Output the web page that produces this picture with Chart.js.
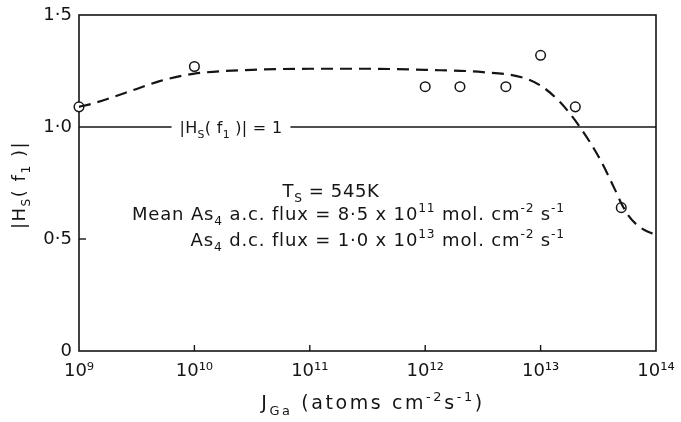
<!DOCTYPE html>
<html><head><meta charset="utf-8">
<script src="https://cdn.jsdelivr.net/npm/chart.js@4.4.1/dist/chart.umd.min.js"></script>
<style>html,body{margin:0;padding:0;background:#fff}#wrap{width:681px;height:422px;position:relative}</style>
</head><body><div id="wrap"><canvas id="c" width="681" height="422"></canvas></div>
<script>
// ---- data ----
const decadeTicks = [1e9, 1e10, 1e11, 1e12, 1e13, 1e14];
const decadeLabels = ['10⁹', '10¹⁰', '10¹¹', '10¹²', '10¹³', '10¹⁴'];
const yTicks = [0, 0.5, 1.0, 1.5];
const yTickLabels = ['0', '0·5', '1·0', '1·5'];
// measured points (open circles)
const fluxJ = [1e9, 1e10, 1e12, 2e12, 5e12, 1e13, 2e13, 5e13];
const gainH = [1.09, 1.27, 1.18, 1.18, 1.18, 1.32, 1.09, 0.64];
// dashed fitted curve
const curveJ = [1e9, 1.32e9, 3.16e9, 5.0e9, 1e10, 3.16e10, 1e11, 3.16e11, 1e12, 3.16e12, 7.1e12, 1e13, 1.48e13, 2.19e13, 3.24e13, 4.37e13, 5.0e13, 5.75e13, 6.76e13, 7.94e13, 9.3e13, 1e14];
const curveH = [1.09, 1.105, 1.17, 1.205, 1.238, 1.255, 1.26, 1.26, 1.255, 1.245, 1.22, 1.185, 1.11, 1.0, 0.86, 0.725, 0.66, 0.605, 0.565, 0.54, 0.525, 0.52];

const FONT = "'DejaVu Sans', sans-serif";
const INK = '#151515';

function drawRich(ctx, parts, x, y, size, align, spacing) {
  ctx.letterSpacing = (spacing || 0) + 'px';
  const seg = parts.map(p => {
    const kind = p[1] || '';
    const s = kind ? size * 0.68 : size;
    ctx.font = s + 'px ' + FONT;
    return {t: p[0], kind, s, w: ctx.measureText(p[0]).width};
  });
  const total = seg.reduce((a, b) => a + b.w, 0);
  let cx = align === 'center' ? x - total / 2 : align === 'right' ? x - total : x;
  ctx.textAlign = 'left';
  ctx.textBaseline = 'alphabetic';
  seg.forEach(g => {
    ctx.font = g.s + 'px ' + FONT;
    const dy = g.kind === 'sub' ? size * 0.3 : g.kind === 'sup' ? -size * 0.42 : 0;
    ctx.fillText(g.t, cx, y + dy);
    cx += g.w;
  });
  ctx.letterSpacing = '0px';
  return total;
}

const decor = {
  id: 'decor',
  beforeDatasetsDraw(chart) {
    const {ctx, chartArea: a, scales: {x, y}} = chart;
    ctx.save();
    ctx.strokeStyle = INK;
    ctx.lineWidth = 1.6;
    ctx.strokeRect(a.left, a.top, a.right - a.left, a.bottom - a.top);
    // inward ticks
    ctx.lineWidth = 1.4;
    decadeTicks.slice(1, -1).forEach(v => {
      const px = x.getPixelForValue(v);
      ctx.beginPath(); ctx.moveTo(px, a.bottom); ctx.lineTo(px, a.bottom - 6); ctx.stroke();
    });
    const p5 = y.getPixelForValue(0.5);
    ctx.beginPath(); ctx.moveTo(a.left, p5); ctx.lineTo(a.left + 7, p5); ctx.stroke();
    // |Hs(f1)| = 1 reference line with text gap
    const p1 = y.getPixelForValue(1.0);
    ctx.fillStyle = INK;
    const label = [['|H'], ['S', 'sub'], ['( f'], ['1', 'sub'], [' )| = 1']];
    const cxLab = 231;
    const w = drawRich(ctx, label, cxLab, p1 + 6, 16, 'center', 0.3);
    ctx.lineWidth = 1.5;
    ctx.beginPath(); ctx.moveTo(a.left, p1); ctx.lineTo(cxLab - w / 2 - 8, p1); ctx.stroke();
    ctx.beginPath(); ctx.moveTo(cxLab + w / 2 + 8, p1); ctx.lineTo(a.right, p1); ctx.stroke();
    ctx.restore();
  },
  afterDraw(chart) {
    const {ctx} = chart;
    ctx.save();
    ctx.fillStyle = INK;
    drawRich(ctx, [['T'], ['S', 'sub'], [' = 545K']], 331, 197, 18, 'center', 0.6);
    drawRich(ctx, [['Mean As'], ['4', 'sub'], [' a.c. flux = 8·5 x 10'], ['11', 'sup'], [' mol. cm'], ['-2', 'sup'], [' s'], ['-1', 'sup']], 565, 220, 18, 'right', 0.85);
    drawRich(ctx, [['As'], ['4', 'sub'], [' d.c. flux = 1·0 x 10'], ['13', 'sup'], [' mol. cm'], ['-2', 'sup'], [' s'], ['-1', 'sup']], 565, 246, 18, 'right', 0.85);
    // axis titles
    drawRich(ctx, [['J'], ['Ga', 'sub'], [' (atoms cm'], ['-2', 'sup'], ['s'], ['-1', 'sup'], [')']], 373, 409, 19, 'center', 2.6);
    ctx.translate(25, 185);
    ctx.rotate(-Math.PI / 2);
    drawRich(ctx, [['|H'], ['S', 'sub'], ['( f'], ['1', 'sub'], [' )|']], 0, 0, 18, 'center', 1.5);
    ctx.restore();
  }
};

Chart.defaults.font.family = FONT;
Chart.defaults.color = INK;

new Chart(document.getElementById('c'), {
  type: 'line',
  data: {
    datasets: [
      {
        label: 'fit',
        data: curveJ.map((v, i) => ({x: v, y: curveH[i]})),
        borderColor: INK,
        borderWidth: 2.2,
        borderDash: [12, 7],
        pointRadius: 0,
        cubicInterpolationMode: 'monotone',
        fill: false,
        clip: false
      },
      {
        label: 'measured',
        data: fluxJ.map((v, i) => ({x: v, y: gainH[i]})),
        showLine: false,
        pointRadius: 4.8,
        pointBorderWidth: 1.5,
        pointBorderColor: INK,
        pointBackgroundColor: '#fff',
        clip: false
      }
    ]
  },
  options: {
    responsive: false,
    animation: false,
    layout: {padding: {left: 0, top: 15, right: 25, bottom: 0}},
    plugins: {legend: {display: false}, tooltip: {enabled: false}},
    scales: {
      x: {
        type: 'logarithmic', min: 1e9, max: 1e14,
        afterBuildTicks: s => { s.ticks = decadeTicks.map(v => ({value: v, major: true})); },
        afterFit: s => { s.height = 71; s.paddingLeft = 0; s.paddingRight = 0; },
        grid: {display: false, drawTicks: false},
        border: {display: false},
        ticks: {
          autoSkip: false, maxRotation: 0, padding: 10,
          font: {size: 18},
          callback: (v, i) => decadeLabels[i]
        }
      },
      y: {
        type: 'linear', min: 0, max: 1.5,
        afterBuildTicks: s => { s.ticks = yTicks.map(v => ({value: v})); },
        afterFit: s => { s.width = 79; s.paddingTop = 0; s.paddingBottom = 0; },
        grid: {display: false, drawTicks: false},
        border: {display: false},
        ticks: {
          padding: 7,
          font: {size: 18},
          callback: (v, i) => yTickLabels[i]
        }
      }
    }
  },
  plugins: [decor]
});
</script>
</body></html>
